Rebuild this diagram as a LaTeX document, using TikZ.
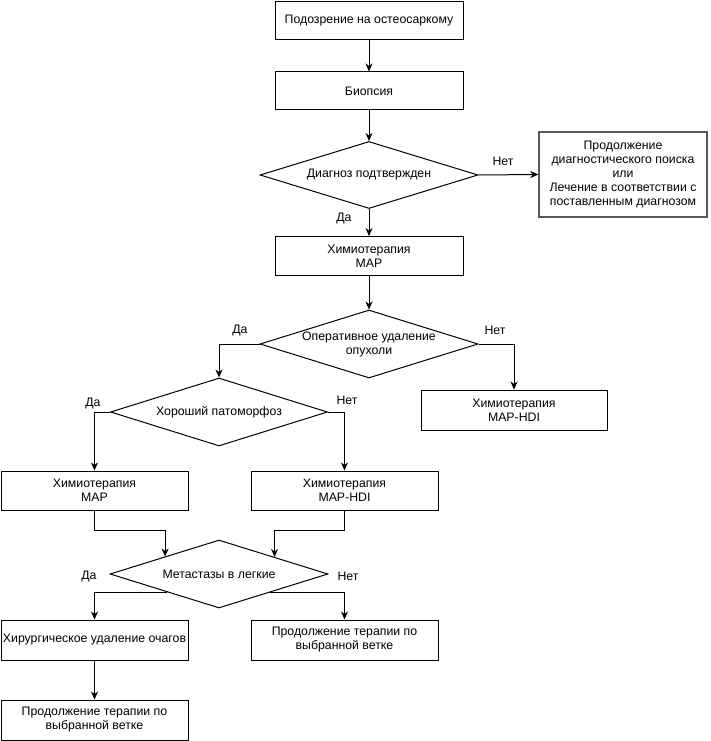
\documentclass[tikz,border=0pt]{standalone}
\usepackage{fontspec}
\setmainfont{Liberation Sans}
\usetikzlibrary{shapes.geometric,arrows.meta}
\begin{document}
\begin{tikzpicture}[x=1pt,y=-1pt, font=\fontsize{12.3}{14}\selectfont,
 box/.style={draw, line width=1pt, minimum width=187pt, minimum height=39pt, inner sep=0pt, align=center, fill=white},
 dia/.style={draw, diamond, line width=1pt, minimum width=218pt, minimum height=68pt, inner sep=0pt, fill=white},
 arr/.style={line width=1pt, -{Stealth[length=8pt,width=7pt,inset=2.5pt]}},
 lbl/.style={inner sep=0pt}]
\useasboundingbox (0,0) rectangle (711,741);

\node[box, minimum width=188pt, minimum height=38pt] (b1) at (369,21) {Подозрение на остеосаркому};
\node[box, minimum width=188pt, minimum height=38pt] (b2) at (369,91) {Биопсия};
\node[dia, minimum height=67pt, label={center:Диагноз подтвержден}] (d1) at (369,175) {};
\node[box, draw=black!65, line width=1.5pt, minimum width=168pt, minimum height=85pt] (rb) at (623,174.5) {Продолжение\\диагностического поиска\\или\\Лечение в соответствии с\\поставленным диагнозом};
\node[box, minimum width=188pt] (b3) at (369,256) {Химиотерапия\\MAP};
\node[dia, label={[align=center]center:Оперативное удаление\\опухоли}] (d2) at (369,344) {};
\node[box, minimum width=186pt, minimum height=40pt] (b4) at (514,410) {Химиотерапия\\MAP-HDI};
\node[dia, minimum width=217pt, label={center:Хороший патоморфоз}] (d3) at (219,412) {};
\node[box] (b5) at (94.5,490.5) {Химиотерапия\\MAP};
\node[box] (b6) at (344.5,490.5) {Химиотерапия\\MAP-HDI};
\node[dia, label={center:Метастазы в легкие}] (d4) at (219,574) {};
\node[box, minimum height=40pt] (b7) at (94.5,640) {Хирургическое удаление очагов};
\node[box, minimum height=40pt] (b8) at (344.5,640) {Продолжение терапии по\\выбранной ветке};
\node[box, minimum height=40pt] (b9) at (94.5,720) {Продолжение терапии по\\выбранной ветке};

\node[lbl] (l1) at (503,161) {Нет};
\node[lbl] (l2) at (344,218) {Да};
\node[lbl] (l3) at (240,330) {Да};
\node[lbl] (l4) at (495,330) {Нет};
\node[lbl] (l5) at (93,403) {Да};
\node[lbl] (l6) at (347,400) {Нет};
\node[lbl] (l7) at (89,576) {Да};
\node[lbl] (l8) at (348,576) {Нет};

\draw[arr] (b1) -- (b2);
\draw[arr] (b2) -- (d1.north);
\draw[arr] (d1.east) -- (rb.west);
\draw[arr] (d1.south) -- (b3.north);
\draw[arr] (b3) -- (d2.north);
\draw[arr] (d2.west) -| (d3.north);
\draw[arr] (d2.east) -| (b4.north);
\draw[arr] (d3.west) -| (b5.north);
\draw[arr] (d3.east) -| (b6.north);
\draw[arr] (b5.south) -- ++(0,20) -| (d4.162.3);
\draw[arr] (b6.south) -- ++(0,20) -| (d4.17.7);
\draw[arr] (d4.199.3) -| (b7.north);
\draw[arr] (d4.340.7) -| (b8.north);
\draw[arr] (b7) -- (b9);
\end{tikzpicture}
\end{document}
